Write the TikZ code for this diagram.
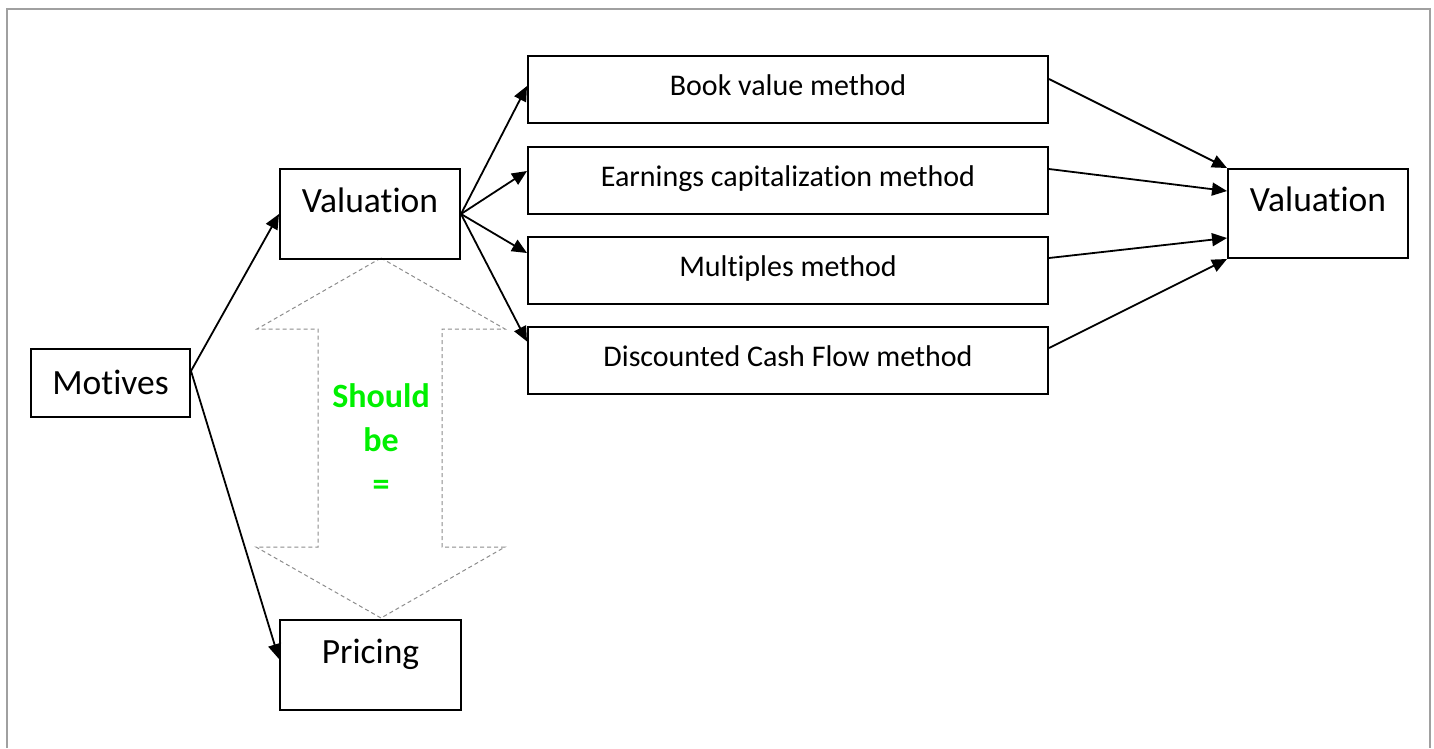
\documentclass[tikz,border=0pt]{standalone}
\usepackage{fontspec}
\setmainfont[Ligatures=NoCommon]{Carlito}
\usetikzlibrary{arrows.meta}
\definecolor{framegray}{RGB}{160,160,160}
\definecolor{dashgray}{RGB}{140,140,140}
\definecolor{brightgreen}{RGB}{0,240,0}
\begin{document}
\begin{tikzpicture}[x=1pt,y=-1pt,
  bigbox/.style={draw=black, line width=2pt, rectangle, anchor=north west, inner sep=0pt,
    font=\fontsize{35.5}{42}\selectfont, text height=22pt, text depth=26pt},
  methodbox/.style={draw=black, line width=2pt, rectangle, anchor=north west, inner sep=0pt,
    minimum width=520pt, minimum height=67pt,
    font=\fontsize{30}{36}\selectfont, text height=19pt, text depth=8pt},
  conn/.style={line width=1.8pt, -{Triangle[length=15pt,width=13pt]}},
]
\useasboundingbox (0,0) rectangle (1434,748);
% frame
\draw[framegray, line width=2pt] (7,748) -- (7,9) -- (1430,9) -- (1430,748);

% double arrow (dashed outline)
\draw[dashgray, line width=1pt, dash pattern=on 4pt off 3pt]
  (381,258) -- (505,329) -- (442,329) -- (442,547) -- (505,547) -- (381,618)
  -- (256,547) -- (318,547) -- (318,329) -- (257,329) -- cycle;
\node[font=\bfseries\fontsize{34}{44}\selectfont, text=brightgreen, align=center, anchor=base] (eq) at (381,495) {Should\\be\\=};

% boxes
\node[bigbox, minimum width=159pt, minimum height=68pt, text depth=0pt] (mot) at (30,348) {Motives};
\node[bigbox, minimum width=180pt, minimum height=90pt] (val) at (279,168) {Valuation};
\node[bigbox, minimum width=181pt, minimum height=90pt] (pri) at (279,619) {Pricing};
\node[bigbox, minimum width=180pt, minimum height=89pt] (rval) at (1227,168) {Valuation};

\node[methodbox] (book) at (527,55) {Book value method};
\node[methodbox] (earn) at (527,146) {Earnings capitalization method};
\node[methodbox] (mult) at (527,236) {Multiples method};
\node[methodbox] (dcf) at (527,326) {Discounted Cash Flow method};

% connectors
\draw[conn] ([yshift=12pt]mot.east) -- (val.west);
\draw[conn] ([yshift=12pt]mot.east) -- ([yshift=6pt]pri.west);

\draw[conn] (val.east) -- ([yshift=3.5pt]book.west);
\draw[conn] (val.east) -- ([yshift=9.5pt]earn.west);
\draw[conn] (val.east) -- ([yshift=17.5pt]mult.west);
\draw[conn] (val.east) -- ([yshift=19pt]dcf.west);

\draw[conn] ([yshift=10.5pt]book.east) -- (rval.north west);
\draw[conn] ([yshift=11.5pt]earn.east) -- ([yshift=22.5pt]rval.west);
\draw[conn] ([yshift=12.5pt]mult.east) -- ([yshift=-24.5pt]rval.west);
\draw[conn] ([yshift=12.5pt]dcf.east) -- (rval.south west);
\end{tikzpicture}
\end{document}
